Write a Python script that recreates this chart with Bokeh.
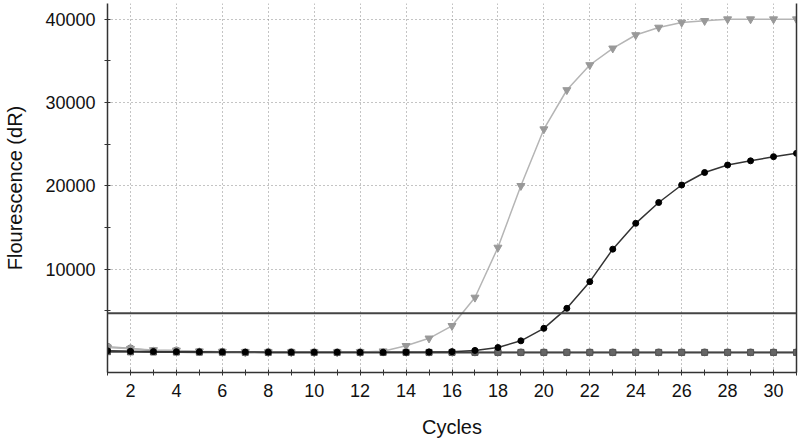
from bokeh.plotting import figure
from bokeh.models import Span, FixedTicker, LinearAxis, Range1d
from bokeh.embed import file_html
from bokeh.resources import INLINE

cycles = list(range(1, 32))
# light gray triangles (early amplification)
sample_a = [600, 450, 300, 250, 150, 100, 60, 40, 30, 30, 30, 50, 150, 800, 1700, 3200, 6600,
            12600, 20000, 26800, 31500, 34500, 36500, 38100, 39000, 39600, 39800, 40000, 40000, 40000, 40000]
# black circles (later amplification)
sample_b = [200, 150, 120, 100, 80, 60, 50, 40, 30, 30, 30, 30, 30, 40, 60, 100, 250,
            600, 1400, 2900, 5300, 8500, 12400, 15500, 18000, 20100, 21600, 22500, 23000, 23500, 23900]
# baseline (no amplification) series
baseline_c = [100, 80, 60, 50, 40, 30, 20, 10, 10, 10, 10, 10, 10, 10, 10, 10, 10,
              10, 10, 10, 10, 10, 10, 10, 10, 10, 10, 10, 10, 10, 10]
baseline_d = [700, 500, 200, 250, 100, 80, 0, 50, 40, 30, 20, 20, 30, 20, 20, 20, 20,
              20, 20, 20, 20, 20, 20, 20, 20, 20, 20, 20, 20, 20, 20]
threshold = 4700
x_ticks = list(range(2, 31, 2))
x_minor = list(range(1, 32, 2))
y_ticks = [10000, 20000, 30000, 40000]
y_minor = [5000, 15000, 25000, 35000]

FONT = "Liberation Sans"

p = figure(width=800, height=442, output_backend="svg", toolbar_location=None,
           x_range=Range1d(1, 31), y_range=Range1d(-2400, 41880),
           min_border_left=107, min_border_right=4, min_border_top=3, min_border_bottom=70)
p.outline_line_color = None
p.background_fill_color = "white"

p.xaxis.ticker = FixedTicker(ticks=x_ticks, minor_ticks=x_minor)
p.yaxis.ticker = FixedTicker(ticks=y_ticks, minor_ticks=y_minor)
for ax in (p.xaxis, p.yaxis):
    ax.axis_line_color = "#333333"
    ax.axis_line_width = 1.5
    ax.major_tick_line_color = "#333333"
    ax.minor_tick_line_color = "#333333"
    ax.major_tick_in = 3
    ax.major_tick_out = 3
    ax.minor_tick_in = 3
    ax.minor_tick_out = 3
    ax.major_label_text_font = FONT
    ax.major_label_text_font_size = "18px"
    ax.major_label_text_color = "#111111"
    ax.axis_label_text_font = FONT
    ax.axis_label_text_font_size = "20px"
    ax.axis_label_text_font_style = "normal"
    ax.axis_label_text_color = "#111111"
p.xaxis.axis_label = "Cycles"
p.yaxis.axis_label = "Flourescence (dR)"
p.xaxis.major_label_standoff = 8
p.xaxis.axis_label_standoff = 16
p.yaxis.major_label_standoff = 9
p.yaxis.axis_label_standoff = 16

right = LinearAxis(ticker=FixedTicker(ticks=[]), major_tick_line_color=None,
                   minor_tick_line_color=None, axis_line_color="#333333", axis_line_width=1.5)
p.add_layout(right, "right")

p.xgrid.grid_line_color = "#888888"
p.xgrid.grid_line_dash = "1 3"
p.ygrid.grid_line_color = "#888888"
p.ygrid.grid_line_dash = "1 3"

p.add_layout(Span(location=threshold, dimension="width", line_color="#444444", line_width=2))

# baseline series
p.line(cycles, baseline_d, line_color="#aaaaaa", line_width=1.5)
p.scatter(cycles, baseline_d, marker="circle", size=7, fill_color="#aaaaaa", line_color="#888888")
p.line(cycles, baseline_c, line_color="#444444", line_width=2)
p.scatter(cycles, baseline_c, marker="square", size=6, fill_color="#666666", line_color="#555555")

# amplification curves
p.line(cycles, sample_a, line_color="#b5b5b5", line_width=1.5)
p.scatter(cycles, sample_a, marker="inverted_triangle", size=8, fill_color="#999999", line_color="#999999")
p.line(cycles, sample_b, line_color="#333333", line_width=1.5)
p.scatter(cycles, sample_b, marker="circle", size=6, fill_color="black", line_color="black")

open("out.html", "w").write(file_html(p, INLINE))
